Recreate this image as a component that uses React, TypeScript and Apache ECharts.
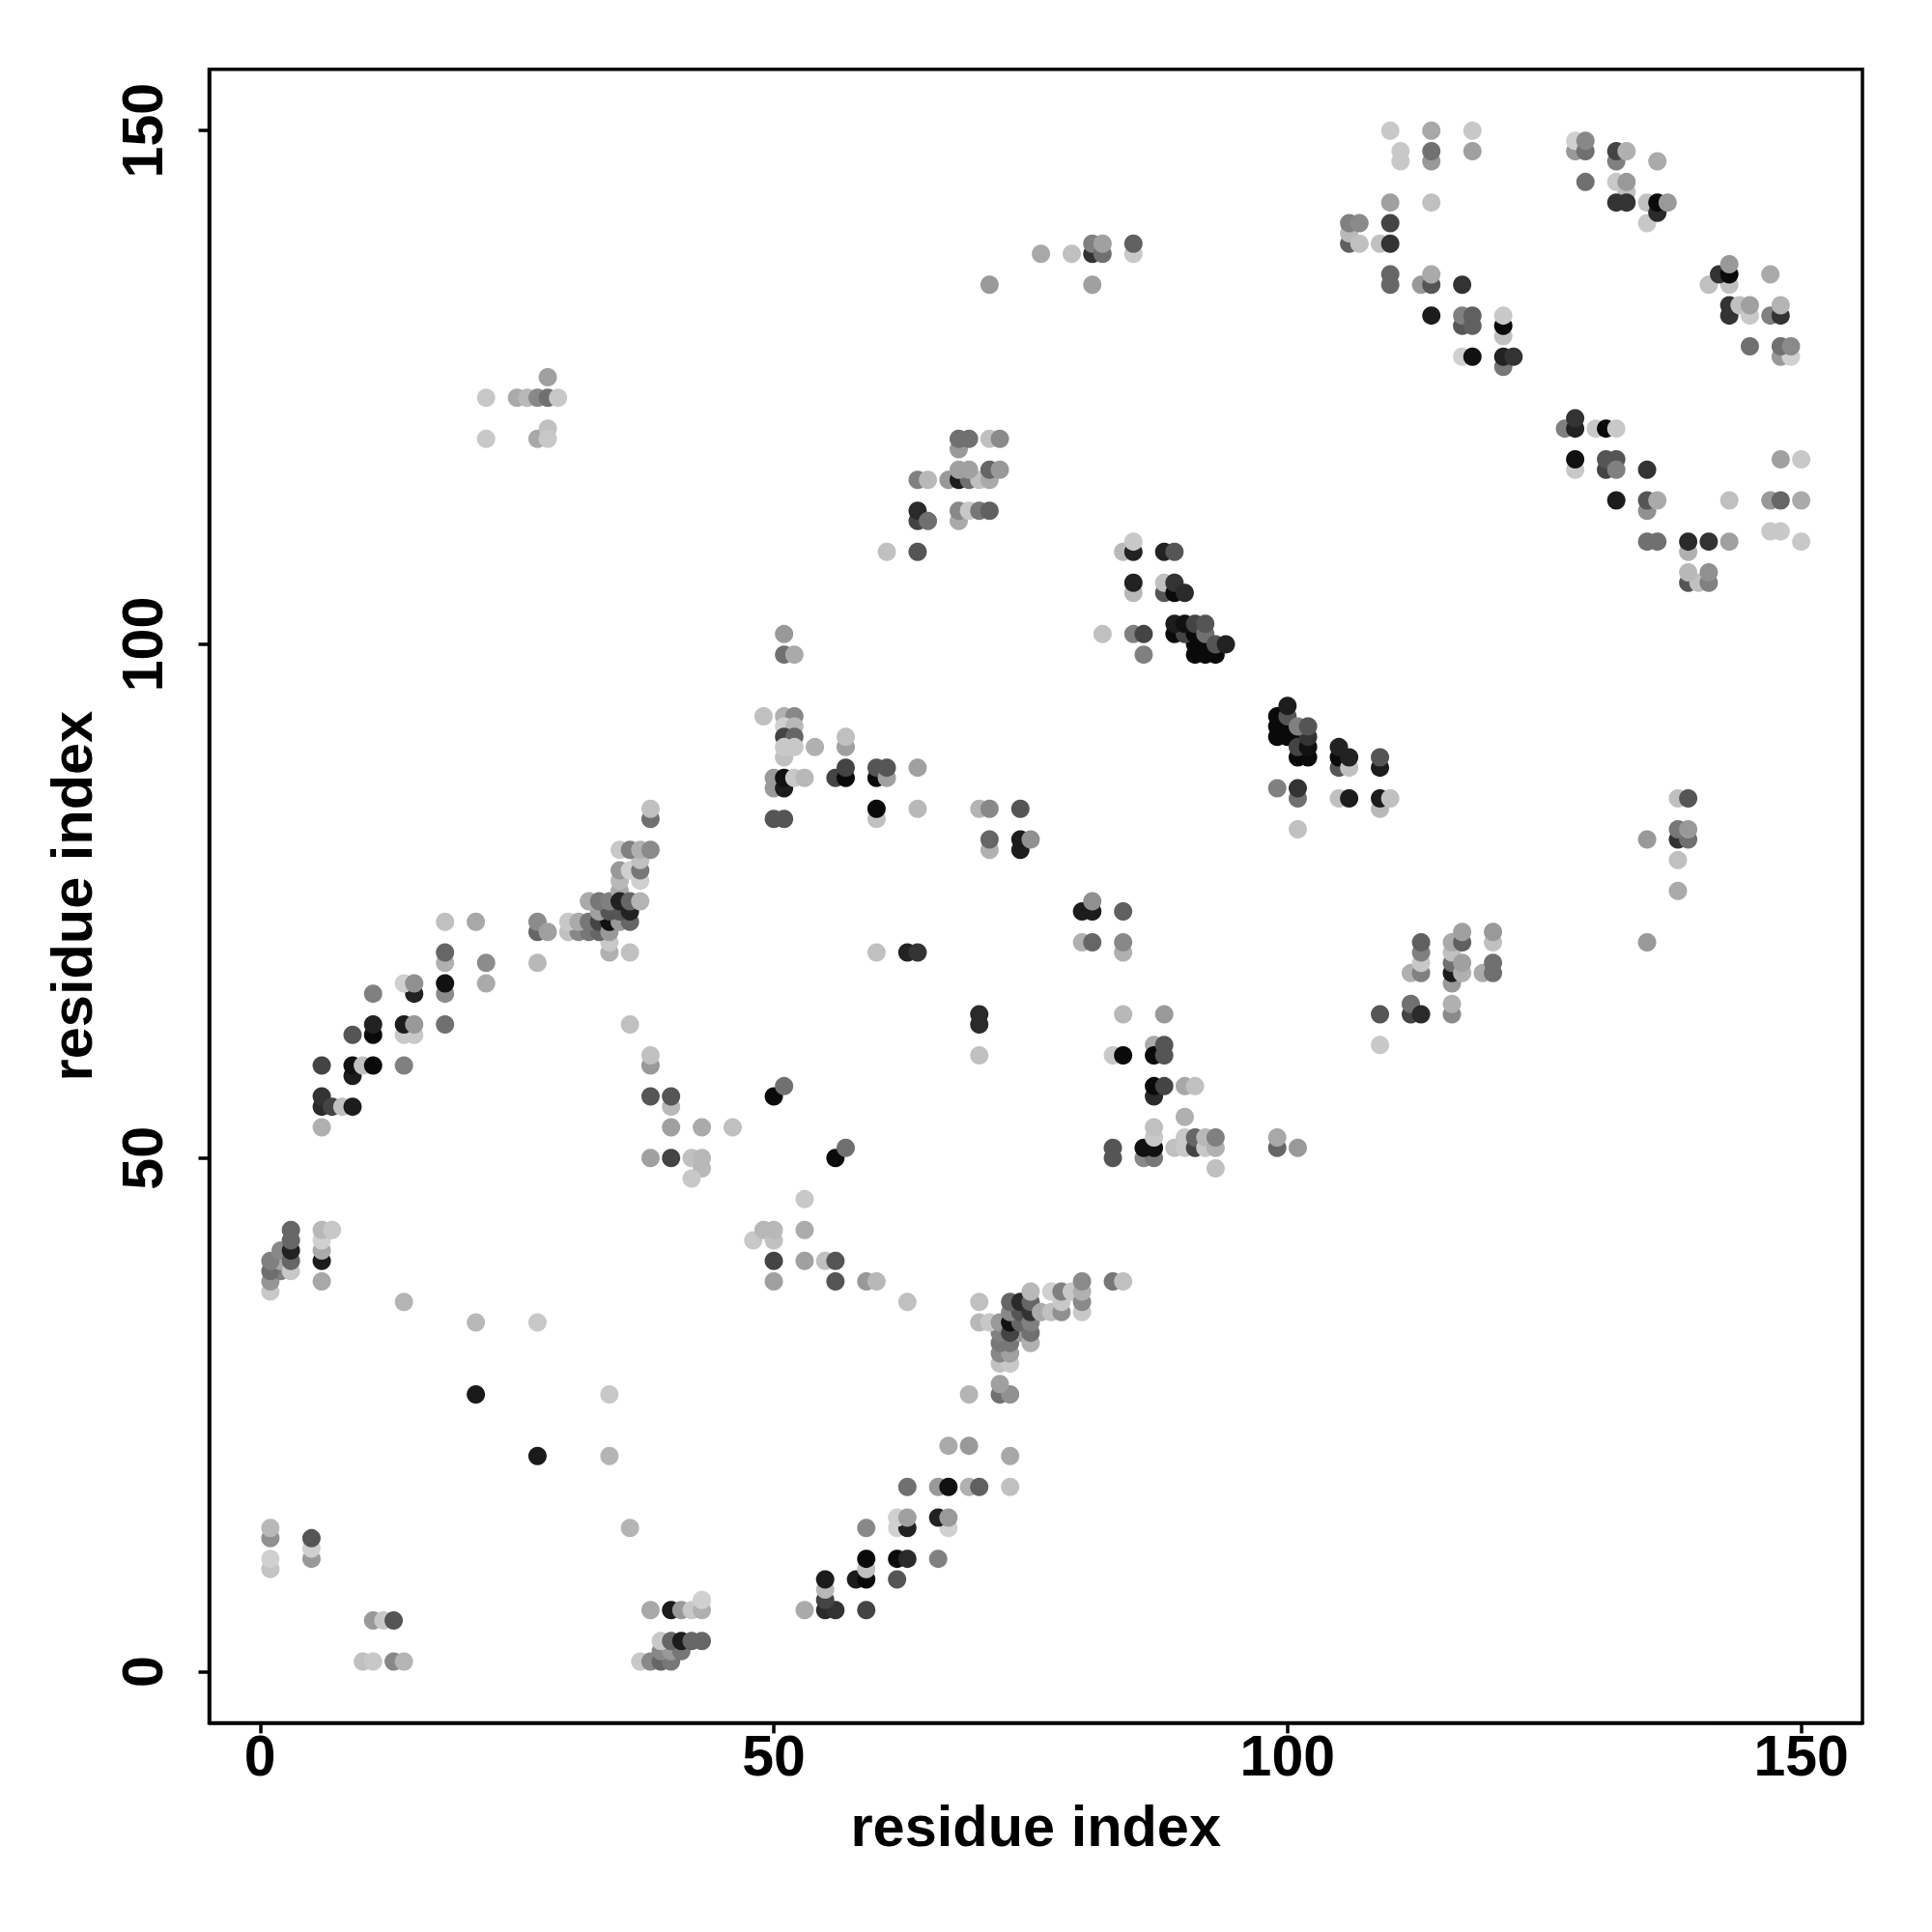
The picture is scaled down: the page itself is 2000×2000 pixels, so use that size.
import React, { useEffect, useRef } from "react";
import * as echarts from "echarts";

type Contact = [number, number, number];

const tickValues = [0, 50, 100, 150];
const axisTitle = "residue index";

const bottomLeftContacts: Contact[] = [
  [1,37,0xc8],[1,38,0x96],[2,39,0x80],[1,39,0x6e],[2,40,0xaa],[1,40,0x80],[2,41,0x88],[3,39,0xc8],[3,40,0x66],[3,41,0x22],[3,43,0x66],[3,42,0x66],
  [6,38,0xa8],[6,40,0x1c],[6,41,0xaa],[6,42,0xd0],[6,43,0xb8],[7,43,0xc8],
  [14,36,0xb4],[21,34,0xb8],[21,27,0x1a],[27,34,0xc8],[27,21,0x1a],[34,27,0xc8],[34,21,0xb4],[36,14,0xb4],
  [1,13,0x90],[1,14,0xb8],[1,10,0xc4],[1,11,0xd0],[5,11,0x99],[5,12,0xd0],[5,13,0x55],
  [11,5,0x99],[12,5,0xc8],[13,5,0x55],[10,1,0xc0],[11,1,0xc8],[13,1,0x88],[14,1,0xb4],
];
const lowerDiagonalContacts: Contact[] = [
  [38,6,0xa8],[40,6,0x1c],[41,6,0x99],[42,6,0xc8],[43,6,0xb0],[43,7,0xd0],
  [37,1,0xc8],[38,1,0x88],[39,1,0x66],[40,1,0x77],[39,2,0x88],[40,2,0x99],[41,2,0x77],
  [39,3,0xc8],[40,3,0x66],[41,3,0x1c],[42,3,0x66],[43,3,0x66],
  [55,6,0x2a],[56,6,0x33],[53,6,0xaa],[59,6,0x44],[55,7,0x44],[55,8,0xb8],[55,9,0x1c],[58,9,0x1c],[59,9,0x0a],[62,9,0x55],[59,10,0xc0],
  [59,11,0x0a],[62,11,0x0a],[63,11,0x2a],[66,11,0x80],[59,14,0x88],[62,14,0xd0],[63,14,0x22],[67,14,0xd0],[62,15,0xd0],[63,15,0xa0],[66,15,0x22],[67,15,0x99],
  [63,18,0x70],[66,18,0x99],[67,18,0x11],[69,18,0xb0],[70,18,0x60],[73,18,0xc0],[67,22,0xaa],[69,22,0x99],[73,21,0xa8],
  [69,27,0xb4],[72,27,0x70],[73,27,0x90],[72,28,0xa0],
];
const helixContacts: Contact[] = [
  [72,30,0xc0],[73,30,0xc8],[72,31,0x88],[73,31,0xa0],[72,32,0x77],[73,32,0x77],[72,33,0x80],[70,34,0xb8],[71,34,0xc8],[72,34,0x99],
  [74,33,0x99],[73,33,0x44],[73,34,0x11],[74,34,0x66],[73,35,0x88],[74,35,0x55],[73,36,0x66],[74,36,0x2a],[75,32,0xb0],[75,33,0x70],[75,34,0x80],[75,35,0x33],[75,36,0x66],[75,37,0xb8],
  [70,36,0xc0],[76,35,0xaa],[77,35,0xc0],[77,37,0xd0],[78,35,0x90],[78,36,0xc8],[78,37,0x80],[79,37,0xc8],[80,35,0xc8],[80,36,0x8a],[80,37,0xb0],[80,38,0x8a],[83,38,0x77],[84,38,0xc0],
  [48,42,0xc8],[49,43,0xb8],[50,42,0xc0],[50,43,0xb8],[50,38,0xa0],[50,40,0x44],[53,43,0xac],[53,40,0xa0],[55,40,0xc0],[56,40,0x55],[56,38,0x55],[59,38,0x99],[60,38,0xb8],[63,36,0xc0],[53,46,0xc8],
];
const earlyStrandContacts: Contact[] = [
  [6,53,0xb0],[6,55,0x2a],[6,56,0x33],[7,55,0x44],[8,55,0xc0],[9,55,0x1c],[6,59,0x44],[9,58,0x1c],[9,59,0x11],[10,59,0xc0],[11,59,0x0a],[14,59,0x80],
  [9,62,0x55],[11,62,0x0a],[11,63,0x22],[14,62,0xc8],[15,62,0xc8],[14,63,0x1c],[15,63,0x99],[18,63,0x70],[11,66,0x80],[15,66,0x22],[14,67,0xd0],[15,67,0x90],
  [18,66,0x8a],[18,67,0x11],[18,69,0xb0],[18,70,0x66],[18,73,0xc0],[21,73,0xa8],[22,69,0x8c],[22,67,0xaa],[27,69,0xb8],[27,72,0x66],[27,73,0x8c],[28,72,0xa0],
  [34,70,0xb0],[36,70,0xc0],[34,71,0xc8],[30,72,0xc0],[31,72,0x88],[32,72,0x77],[33,72,0x66],[30,73,0xc8],[31,73,0xaa],[32,73,0x77],[33,73,0x44],[34,72,0x99],
  [34,73,0x11],[35,73,0x99],[36,73,0x66],[33,74,0xa0],[34,74,0x55],[35,74,0x55],[36,74,0x22],[32,75,0xaa],[33,75,0x77],[34,75,0x80],[35,76,0xaa],[35,75,0x22],[36,75,0x66],[37,75,0xb4],
  [35,77,0xb8],[37,77,0xd0],[35,78,0x99],[36,78,0xd0],[37,78,0x77],[37,79,0xc0],[35,80,0xc8],[36,80,0x80],[37,80,0xb0],[38,80,0x8a],[38,83,0x70],[38,84,0xc0],
  [36,63,0xc0],[38,59,0x99],[38,60,0xc0],[38,56,0x55],[40,55,0xb8],[40,56,0x55],[40,53,0xa0],[43,53,0xaa],[46,53,0xc0],[38,50,0xa0],[40,50,0x44],[42,50,0xc0],[43,49,0xb8],[43,50,0xb8],[42,48,0xc8],
];
const middleContacts: Contact[] = [
  [50,56,0x0a],[51,57,0x70],[56,50,0x0a],[57,51,0x70],[60,70,0xc0],[63,70,0x22],[64,70,0x33],[70,63,0x2a],[70,64,0x2a],[70,60,0xc0],
  [51,99,0x70],[52,99,0xaa],[51,101,0x99],[49,93,0xc0],[51,93,0xb0],[52,93,0x88],[51,89,0xc0],[51,92,0xd0],[52,92,0xb8],[51,91,0x44],[52,91,0x66],[51,90,0xc8],[52,90,0xc8],[54,90,0xb0],
  [57,90,0xa0],[57,91,0xc0],[56,87,0x44],[57,87,0x0a],[57,88,0x44],[50,86,0x99],[50,87,0x99],[51,86,0x1c],[51,87,0x11],[52,87,0xc8],[53,87,0xb8],[50,83,0x55],[51,83,0x55],
  [60,87,0x0a],[60,88,0x55],[61,87,0xa0],[61,88,0x55],[64,88,0xa0],[60,83,0xc0],[60,84,0x0a],[64,84,0xb8],
  [70,84,0xb4],[71,84,0x88],[74,84,0x55],[71,80,0xb0],[71,81,0x66],[74,80,0x1c],[74,81,0x1c],[75,81,0x90],
  [80,74,0x1c],[81,74,0x1c],[81,75,0x90],[84,74,0x60],[80,71,0xb0],[81,71,0x66],[84,70,0xb0],[84,71,0x88],
];
const sheetContacts: Contact[] = [
  [84,64,0xb8],[88,64,0x99],[87,61,0xaa],[83,60,0xc8],[84,60,0x0a],[87,60,0x0a],[88,61,0x55],[88,60,0x55],
  [87,56,0x2a],[87,57,0x0a],[88,57,0x44],[90,57,0xa8],[91,57,0xc0],[90,54,0xb0],
  [83,50,0x55],[83,51,0x55],[86,50,0x8a],[87,50,0x77],[86,51,0x11],[87,51,0x11],[87,52,0xc8],[87,53,0xc0],[89,51,0xc0],[90,51,0xc8],[90,52,0xc8],[91,51,0x44],[91,52,0x66],[92,51,0xc8],[92,52,0xb8],[93,49,0xc0],[93,51,0xb0],[93,52,0x80],
  [99,51,0x66],[99,52,0xa8],[101,51,0x99],
  [109,64,0x55],[109,61,0xc8],[112,64,0x44],[112,65,0x70],[113,64,0x2a],[116,64,0x8a],[116,65,0xb0],
  [112,68,0xb0],[113,68,0x80],[113,69,0xc8],[113,70,0x80],[113,71,0x60],[116,67,0x99],[116,68,0x1c],[116,69,0x70],[116,70,0xc0],[116,71,0xaa],[117,68,0xb0],[117,69,0xa0],[117,71,0x60],[117,72,0xa0],
  [119,68,0xaa],[120,68,0x70],[120,69,0x70],[120,71,0xc0],[120,72,0x99],
];
const centralContacts: Contact[] = [
  [82,101,0xc0],[85,101,0x80],[86,101,0x44],[86,99,0x80],[84,109,0xb8],[85,109,0x22],[85,110,0xc8],[85,105,0xb8],[85,106,0x22],[88,109,0x22],[89,109,0x55],
  [88,105,0x55],[88,106,0xc0],[89,105,0x0a],[89,106,0x33],[90,105,0x2a],
  [91,99,0x0a],[92,99,0x0a],[93,99,0x0a],[91,100,0x0a],[92,100,0x0a],[89,101,0x0a],[90,101,0x44],[91,101,0x0a],[89,102,0x1c],[90,102,0x11],[91,102,0x44],[92,101,0x70],[92,102,0x55],[93,100,0x55],[94,100,0x22],
  [68,119,0x99],[68,120,0x70],[69,120,0x70],[71,120,0xc0],[72,120,0x8a],[64,116,0x80],[65,116,0xb8],[67,116,0x99],[68,116,0x1c],[69,116,0x70],[70,116,0xc0],[71,116,0xaa],[68,117,0xa0],[69,117,0xa0],[71,117,0x66],[72,117,0x99],
  [64,112,0x44],[64,113,0x2a],[65,112,0x70],[68,112,0xaa],[68,113,0x88],[69,113,0xc8],[70,113,0x77],[71,113,0x60],[61,109,0xc0],[64,109,0x55],
  [22,124,0xc8],[25,124,0xaa],[26,124,0xb8],[27,124,0x88],[28,124,0x70],[29,124,0xc8],[28,126,0xa0],[22,120,0xc8],[27,120,0xa8],[28,121,0xc0],[28,120,0xc8],
  [71,135,0x99],[76,138,0xa8],[79,138,0xc0],[81,135,0xa0],[81,138,0x33],[81,139,0x80],[82,138,0x70],[82,139,0xa0],[85,138,0xc8],[85,139,0x60],
];
const rightContacts: Contact[] = [
  [99,86,0x80],[101,85,0x70],[101,86,0x33],[101,82,0xc0],
  [99,93,0x0a],[99,92,0x0a],[99,91,0x0a],[100,91,0x0a],[101,91,0x0a],[101,89,0x0a],[102,89,0x0a],[101,90,0x44],[102,90,0x11],[100,92,0x0a],[100,93,0x55],[100,94,0x1c],[102,91,0x33],[101,92,0x80],[102,92,0x55],
  [105,88,0x55],[105,89,0x0a],[105,90,0x22],[106,88,0xc0],[106,89,0x22],[109,88,0x1c],[109,89,0x55],[105,85,0xc0],[106,85,0x1c],[109,84,0xb8],[109,85,0x1c],[110,85,0xc0],
  [138,85,0xc0],[139,85,0x55],[135,81,0x99],[138,81,0x33],[139,81,0x70],[138,82,0x77],[139,82,0x99],[138,79,0xc0],[138,76,0xaa],[135,71,0x99],
];
const upperRightContacts: Contact[] = [
  [110,150,0xc8],[114,150,0xa8],[118,150,0xc8],[111,147,0xc8],[111,148,0xc8],[114,147,0x99],[114,148,0x70],[118,148,0xa0],[110,143,0xa0],[114,143,0xc0],
  [106,139,0x60],[106,140,0xb8],[107,139,0xc0],[106,141,0x80],[107,141,0x8a],[109,139,0xc0],[110,139,0x33],[110,141,0x44],
  [110,135,0x66],[110,136,0x66],[113,135,0x99],[114,135,0x55],[114,136,0xaa],[117,135,0x33],
  [114,132,0x1c],[117,131,0x55],[117,132,0x80],[118,131,0x60],[118,132,0x60],[121,130,0xc0],[121,131,0x0a],[121,132,0xc8],[117,128,0xd0],[118,128,0x11],[121,127,0x77],[121,128,0x22],[122,128,0x33],
  [128,148,0x99],[128,149,0xd0],[129,148,0x70],[129,149,0x88],[132,147,0x80],[132,148,0x44],[133,148,0xb0],[136,147,0xaa],
  [129,145,0x70],[132,145,0xc8],[133,144,0xc0],[133,145,0x99],[132,143,0x33],[133,143,0x33],[135,143,0xc0],[135,141,0xc8],[136,142,0x2a],[136,143,0x0a],[137,143,0x99],
  [141,135,0xc0],[143,135,0xc0],[142,136,0x33],[143,136,0x0a],[143,137,0x99],[147,136,0xaa],
  [143,132,0x33],[143,133,0x33],[144,133,0xc0],[145,132,0xc8],[145,133,0xa0],[147,132,0x80],[148,132,0x33],[148,133,0xb4],
  [145,129,0x70],[148,128,0x99],[149,128,0xd0],[148,129,0x70],[149,129,0x8a],
  [127,121,0x80],[128,121,0x22],[128,122,0x33],[130,121,0xc8],[131,121,0x0a],[132,121,0xc8],
  [128,117,0xc8],[128,118,0x11],[131,117,0x44],[131,118,0x55],[132,118,0x55],[132,117,0x80],[135,117,0x33],
  [132,114,0x1c],[135,113,0x90],[135,114,0x55],[136,114,0xaa],[135,110,0x70],[136,110,0x70],
  [139,109,0xb0],[139,110,0x2a],[141,110,0x33],[143,110,0xa0],[139,106,0x55],[140,106,0xc0],[141,106,0x80],[139,107,0xb8],[141,107,0x90],
  [143,114,0xc0],[147,114,0x99],[148,114,0x66],[150,114,0xaa],[147,111,0xc8],[148,111,0xc8],[150,110,0xc8],[148,118,0xa0],[150,118,0xc8],
];

const allContacts: Contact[] = [
  ...bottomLeftContacts,
  ...lowerDiagonalContacts,
  ...helixContacts,
  ...earlyStrandContacts,
  ...middleContacts,
  ...sheetContacts,
  ...centralContacts,
  ...rightContacts,
  ...upperRightContacts,
];

const FONT = "'Liberation Sans', Arial, Helvetica, sans-serif";

export default function App() {
  const ref = useRef<HTMLDivElement>(null);
  useEffect(() => {
    if (!ref.current) return;
    const chart = echarts.init(ref.current, undefined, { renderer: "svg", width: 2000, height: 2000 });
    const axisBase = {
      type: "value" as const,
      min: -4.96,
      max: 155.96,
      name: axisTitle,
      nameLocation: "middle" as const,
      nameTextStyle: { fontFamily: FONT, fontWeight: "bold" as const, fontSize: 59.5, color: "#000" },
      axisLine: { show: true, onZero: false, lineStyle: { color: "#000", width: 3.5 } },
      axisTick: { show: true, length: 11, customValues: tickValues, lineStyle: { color: "#000", width: 3.5 } },
      splitLine: { show: false },
    };
    chart.setOption({
      animation: false,
      backgroundColor: "#fff",
      grid: { show: true, left: 216.5, right: 72, top: 71.8, bottom: 216.6, borderColor: "#000", borderWidth: 3.5, backgroundColor: "transparent", containLabel: false },
      xAxis: {
        ...axisBase,
        nameGap: 77,
        axisLabel: { customValues: tickValues, showMinLabel: true, showMaxLabel: true, fontFamily: FONT, fontWeight: "bold", fontSize: 59, color: "#000", margin: 5 },
      },
      yAxis: {
        ...axisBase,
        nameGap: 112,
        axisLabel: { customValues: tickValues, showMinLabel: true, showMaxLabel: true, rotate: 90, fontFamily: FONT, fontWeight: "bold", fontSize: 59, color: "#000", margin: 39, align: "center", verticalAlign: "bottom" },
      },
      series: [
        {
          type: "scatter",
          symbol: "circle",
          symbolSize: 19,
          progressive: 0,
          large: false,
          clip: true,
          data: allContacts.map(([x, y, shade]) => ({
            value: [x, y],
            itemStyle: { color: `rgb(${shade},${shade},${shade})`, opacity: 1 },
          })),
        },
      ],
    });
    return () => chart.dispose();
  }, []);
  return <div ref={ref} style={{ position: "absolute", left: 0, top: 0, width: 2000, height: 2000 }} />;
}
